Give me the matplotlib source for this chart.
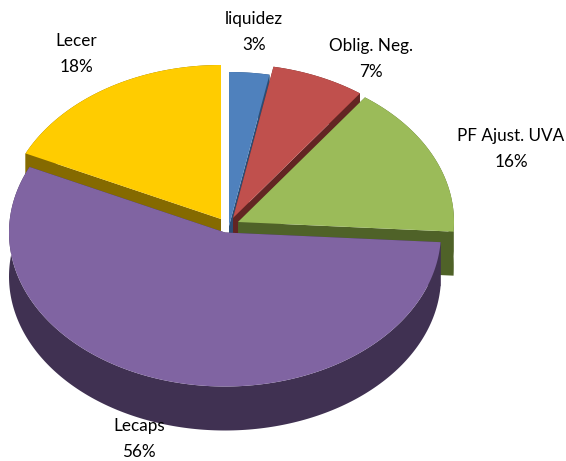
import numpy as np
import matplotlib
matplotlib.use("Agg")
import matplotlib.pyplot as plt
from matplotlib.patches import Polygon

# ----- Data -----
labels = ["liquidez", "Oblig. Neg.", "PF Ajust. UVA", "Lecaps", "Lecer"]
shares = [3, 7, 16, 56, 18]

# ----- Style -----
top_colors = ["#4f81bd", "#c0504d", "#9bbb59", "#8064a2", "#ffcc00"]
side_colors = ["#2c4d75", "#632523", "#4f6228", "#403152", "#856a00"]
centers = [(229, 226), (233, 218), (238, 222), (225, 232.5), (221, 219)]
label_pos = [(254, 32), (371, 59), (511, 149), (139, 439), (76, 54)]
rx, ry = 216, 154   # ellipse radii of the tilted pie
depth = 44          # thickness of the pie


def point(c, a, dz=0):
    # a is the angle clockwise from 12 o'clock, radians
    return np.column_stack([c[0] + rx * np.sin(a), c[1] - ry * np.cos(a) + dz])


fig = plt.figure(figsize=(5.66, 4.61), dpi=100)
ax = fig.add_axes([0, 0, 1, 1])
ax.set_xlim(0, 566)
ax.set_ylim(461, 0)
ax.axis("off")

ends = np.cumsum(shares) / np.sum(shares) * 2 * np.pi
starts = ends - np.array(shares) / np.sum(shares) * 2 * np.pi

# back wedges first, Lecaps goes on top of the rest
for i in [4, 0, 1, 2, 3]:
    c = centers[i]
    a = np.linspace(starts[i], ends[i], 200)
    arc = point(c, a)
    low = point(c, a, depth)
    apex = np.array([c])
    apex_low = np.array([[c[0], c[1] + depth]])
    # radial faces and outer wall
    ax.add_patch(Polygon(np.vstack([apex, arc[:1], low[:1], apex_low]), fc=side_colors[i], ec="none"))
    ax.add_patch(Polygon(np.vstack([apex, arc[-1:], low[-1:], apex_low]), fc=side_colors[i], ec="none"))
    ax.add_patch(Polygon(np.vstack([arc, low[::-1]]), fc=side_colors[i], ec="none"))
    # top face
    ax.add_patch(Polygon(np.vstack([apex, arc]), fc=top_colors[i], ec="none"))

for name, val, pos in zip(labels, shares, label_pos):
    ax.text(pos[0], pos[1], f"{name}\n{val}%", ha="center", va="center",
            family="Lato", fontsize=12.3, color="black", linespacing=1.75)

fig.savefig("out.png", dpi=100)
